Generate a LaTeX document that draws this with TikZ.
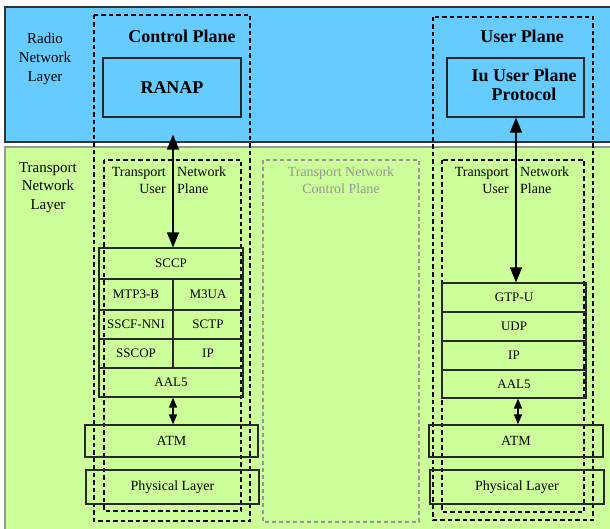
\documentclass[tikz,border=0pt]{standalone}
\usepackage{fontspec}
\setmainfont{Liberation Serif}
\usetikzlibrary{arrows.meta}
\definecolor{rnlblue}{RGB}{102,204,255}
\definecolor{tnlgreen}{RGB}{204,255,153}
\definecolor{boxline}{RGB}{40,40,40}
\definecolor{cpgray}{RGB}{150,150,150}
\tikzset{
  layerlbl/.style={align=center, font=\fontsize{15}{18.7}\selectfont, inner sep=0pt},
  planetitle/.style={font=\bfseries\fontsize{18}{19}\selectfont, inner sep=0pt, align=center},
  protobox/.style={draw=boxline, line width=1.2pt, inner sep=0pt, font=\fontsize{13}{15}\selectfont},
  wideproto/.style={protobox, font=\fontsize{14}{16}\selectfont},
  outerdash/.style={draw=black, line width=1.7pt, dash pattern=on 4.5pt off 3pt},
  graydash/.style={draw=cpgray, line width=1.2pt, dash pattern=on 4pt off 3pt},
  tnuplbl/.style={font=\fontsize{14}{16}\selectfont, inner sep=0pt},
  bigarrow/.style={line width=1.3pt, {Triangle[length=15pt,width=12pt]}-{Triangle[length=15pt,width=12pt]}},
  smallarrow/.style={line width=1.3pt, {Triangle[length=10pt,width=8pt]}-{Triangle[length=10pt,width=8pt]}}
}
\begin{document}
\begin{tikzpicture}[x=1pt,y=-1pt]
\useasboundingbox (0,0) rectangle (610,529);
% layer backgrounds
\draw[fill=rnlblue, draw=black!80, line width=1.2pt] (5,7) rectangle (620,142);
\draw[fill=tnlgreen, draw=black!40, line width=1.2pt] (5,147) rectangle (620,540);
\node[layerlbl] (rnl) at (45,59) {Radio\\Network\\Layer};
\node[layerlbl] (tnl) at (48,187.5) {Transport\\Network\\Layer};
% dashed planes
\draw[outerdash] (94,15) rectangle (250,521);
\draw[outerdash] (433,17) rectangle (593,520);
\draw[outerdash] (104,160) rectangle (241,511);
\draw[outerdash] (442,160) rectangle (584,512);
\draw[graydash] (263,160) rectangle (419,522);
% titles
\node[planetitle] (cptitle) at (182,36) {Control Plane};
\node[planetitle] (uptitle) at (522,36) {User Plane};
\node[planetitle, draw=boxline, line width=1.2pt, minimum width=138pt, minimum height=59pt] (ranap) at (172,87.5) {RANAP};
\node[draw=boxline, line width=1.2pt, minimum width=137pt, minimum height=59pt, inner sep=0pt] (iuup) at (515.5,87.5) {};
\node[planetitle, font=\bfseries\fontsize{18}{19}\selectfont] (iuuptext) at (524,85) {Iu User Plane\\Protocol};
% transport network user plane labels
\node[tnuplbl, anchor=base east] (tl1) at (166,177) {Transport};
\node[tnuplbl, anchor=base east] (tl2) at (166,193.5) {User};
\node[tnuplbl, anchor=base west] (tl3) at (177,177) {Network};
\node[tnuplbl, anchor=base west] (tl4) at (177,193.5) {Plane};
\node[tnuplbl, anchor=base east] (tr1) at (509,177) {Transport};
\node[tnuplbl, anchor=base east] (tr2) at (509,193.5) {User};
\node[tnuplbl, anchor=base west] (tr3) at (520,177) {Network};
\node[tnuplbl, anchor=base west] (tr4) at (520,193.5) {Plane};
\node[tnuplbl, text=cpgray, align=center, font=\fontsize{14}{17}\selectfont] (tncp) at (341,180.5) {Transport Network\\Control Plane};
% left stack
\node[protobox, minimum width=144pt, minimum height=31pt] (sccp) at (171,263.5) {SCCP};
\node[protobox, minimum width=74pt, minimum height=31pt] (mtp) at (136,294.5) {MTP3-B};
\node[protobox, minimum width=70pt, minimum height=31pt] (m3ua) at (208,294.5) {M3UA};
\node[protobox, minimum width=74pt, minimum height=29pt] (sscf) at (136,324.5) {SSCF-NNI};
\node[protobox, minimum width=70pt, minimum height=29pt] (sctp) at (208,324.5) {SCTP};
\node[protobox, minimum width=74pt, minimum height=29pt] (sscop) at (136,353.5) {SSCOP};
\node[protobox, minimum width=70pt, minimum height=29pt] (ipl) at (208,353.5) {IP};
\node[protobox, minimum width=144pt, minimum height=29pt] (aal5l) at (171,382.5) {AAL5};
\node[wideproto, minimum width=173pt, minimum height=32pt] (atml) at (171.5,441) {ATM};
\node[wideproto, minimum width=173pt, minimum height=34pt] (phyl) at (172.5,487) {Physical Layer};
% right stack
\node[protobox, minimum width=144pt, minimum height=29pt] (gtpu) at (514,297.5) {GTP-U};
\node[protobox, minimum width=144pt, minimum height=29pt] (udp) at (514,326.5) {UDP};
\node[protobox, minimum width=144pt, minimum height=29pt] (ipr) at (514,355.5) {IP};
\node[protobox, minimum width=144pt, minimum height=28pt] (aal5r) at (514,384) {AAL5};
\node[wideproto, minimum width=174pt, minimum height=32pt] (atmr) at (516,441) {ATM};
\node[wideproto, minimum width=174pt, minimum height=34pt] (phyr) at (517,487) {Physical Layer};
% arrows
\draw[bigarrow, shorten <=17pt] ([xshift=1pt]ranap.south) -- ([xshift=1pt]ranap.south |- sccp.north);
\draw[bigarrow] ([xshift=0.5pt]iuup.south) -- ([xshift=0.5pt]iuup.south |- gtpu.north);
\draw[smallarrow] ([xshift=2pt]aal5l.south) -- ([xshift=2pt]aal5l.south |- atml.north);
\draw[smallarrow] ([xshift=4pt]aal5r.south) -- ([xshift=4pt]aal5r.south |- atmr.north);
\end{tikzpicture}
\end{document}
